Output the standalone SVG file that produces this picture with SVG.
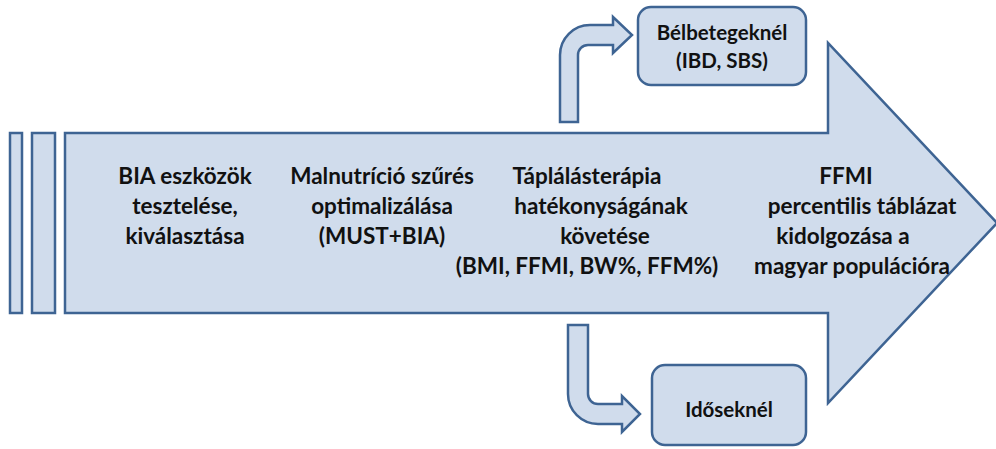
<svg xmlns="http://www.w3.org/2000/svg" width="996" height="449" viewBox="0 0 996 449">
<style>
.sh{fill:#D0DCEC;stroke:#3E6493;stroke-width:2.5;stroke-linejoin:miter}
.t{font-family:Lato,"Open Sans","Liberation Sans",sans-serif;font-weight:bold;font-size:22.5px;fill:#111;text-anchor:middle}
.b{font-size:20.5px}
</style>
<rect width="996" height="449" fill="#fff"/>
<g id="bars">
<rect class="sh" x="10" y="133" width="12" height="180"/>
<rect class="sh" x="32" y="133" width="23" height="180"/>
</g>
<g id="main-arrow">
<path class="sh" d="M65,133 L828,133 L828,43 L997,223 L828,403 L828,313 L65,313 Z"/>
<text class="t" x="185" y="184">BIA eszközök</text>
<text class="t" x="185" y="214">tesztelése,</text>
<text class="t" x="185" y="244">kiválasztása</text>
<text class="t" x="382" y="184">Malnutríció szűrés</text>
<text class="t" x="382" y="214">optimalizálása</text>
<text class="t" x="382" y="244">(MUST+BIA)</text>
<text class="t" x="587" y="184">Táplálásterápia</text>
<text class="t" x="601" y="214">hatékonyságának</text>
<text class="t" x="605" y="244">követése</text>
<text class="t" x="587" y="274">(BMI, FFMI, BW%, FFM%)</text>
<text class="t" x="846" y="184">FFMI</text>
<text class="t" x="862" y="214">percentilis táblázat</text>
<text class="t" x="843" y="244">kidolgozása a</text>
<text class="t" x="852" y="274">magyar populációra</text>
</g>
<g id="connectors">
<path class="sh" d="M560,122 L560,55 A30,30 0 0 1 590,25 L613,25 L613,17 L632,35 L613,53 L613,45 L588,45 A10,10 0 0 0 578,55 L578,122 Z"/>
<path class="sh" d="M568,325 L588,325 L588,394 A10,10 0 0 0 598,404 L622,404 L622,396 L640,414 L622,432 L622,424 L598,424 A30,30 0 0 1 568,394 Z"/>
</g>
<g id="box-bel">
<rect class="sh" x="638" y="7" width="168" height="78" rx="13"/>
<text class="t b" x="722" y="40">Bélbetegeknél</text>
<text class="t b" x="722" y="68">(IBD, SBS)</text>
</g>
<g id="box-idos">
<rect class="sh" x="652" y="365" width="154" height="80" rx="13"/>
<text class="t b" x="729" y="417">Időseknél</text>
</g>
</svg>
